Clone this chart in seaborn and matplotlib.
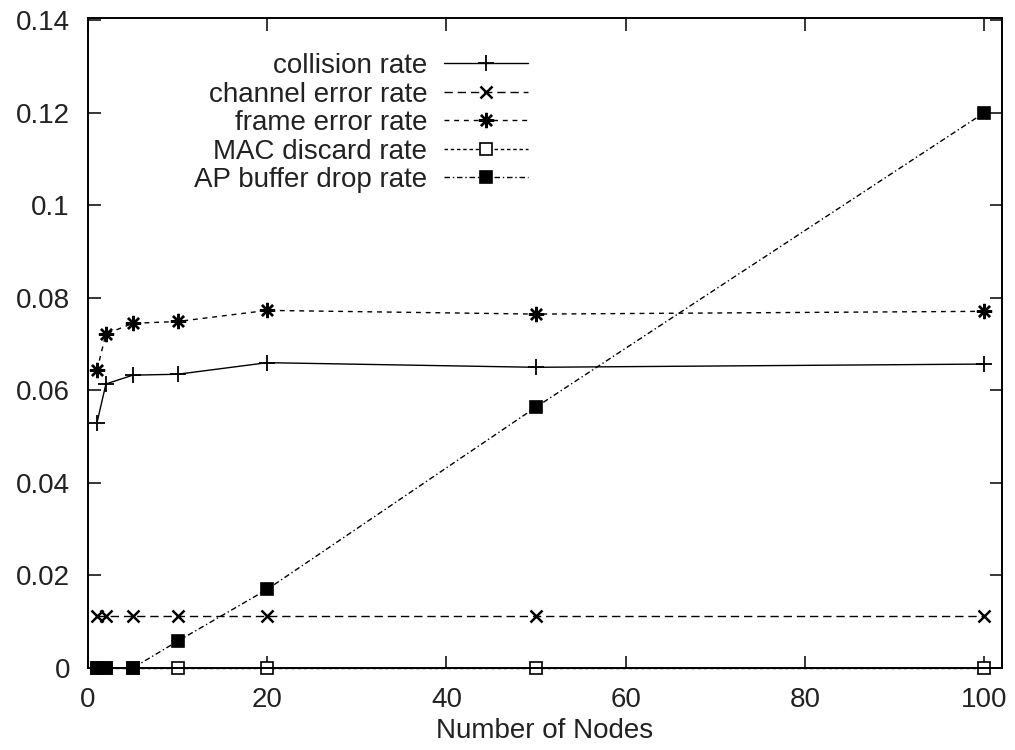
import matplotlib
matplotlib.use("Agg")
import matplotlib.pyplot as plt
import seaborn as sns
import pandas as pd

# Number of nodes on the WLAN
nodes = [1, 2, 5, 10, 20, 50, 100]

# Measured rates per node count
collision_rate = [0.053, 0.0614, 0.0633, 0.0635, 0.066, 0.065, 0.0657]
channel_error_rate = [0.0112, 0.0112, 0.0112, 0.0112, 0.0112, 0.0112, 0.0112]
frame_error_rate = [0.0644, 0.0722, 0.0745, 0.0749, 0.0773, 0.0765, 0.0771]
mac_discard_rate = [0.0, 0.0, 0.0, 0.0, 0.0, 0.0, 0.0]
ap_buffer_drop_rate = [0.0, 0.0, 0.0, 0.0058, 0.017, 0.0564, 0.120]

series_names = ["collision rate", "channel error rate", "frame error rate",
                "MAC discard rate", "AP buffer drop rate"]
series_values = [collision_rate, channel_error_rate, frame_error_rate,
                 mac_discard_rate, ap_buffer_drop_rate]

x_ticks = [0, 20, 40, 60, 80, 100]
y_ticks = [0, 0.02, 0.04, 0.06, 0.08, 0.1, 0.12, 0.14]
x_label = "Number of Nodes"

df = pd.DataFrame({"nodes": nodes})
for name, vals in zip(series_names, series_values):
    df[name] = vals

sns.set_style("ticks")
plt.rcParams["font.family"] = ["Liberation Sans", "DejaVu Sans"]
plt.rcParams["font.size"] = 20
text_color = "#222222"

styles = {
    "collision rate": dict(linestyle="-", marker="+", markersize=12,
                           markeredgewidth=1.3, markerfacecolor="black"),
    "channel error rate": dict(linestyle=(0, (6, 3.5)), marker="x", markersize=9,
                               markeredgewidth=1.8, markerfacecolor="black"),
    "frame error rate": dict(linestyle=(0, (3.5, 3.5)), marker=(8, 2, 0), markersize=11,
                             markeredgewidth=1.7, markerfacecolor="black"),
    "MAC discard rate": dict(linestyle=(0, (2.5, 2)), marker="s", markersize=9,
                             markeredgewidth=1.2, markerfacecolor="white"),
    "AP buffer drop rate": dict(linestyle=(0, (4, 2, 1, 2)), marker="s", markersize=9,
                                markeredgewidth=1.2, markerfacecolor="black"),
}

fig = plt.figure(figsize=(10.15, 7.5), dpi=100)
ax = fig.add_axes([0.0867, 0.1093, 0.9005, 0.8667])

for name in series_names:
    sns.lineplot(data=df, x="nodes", y=name, ax=ax, color="black", linewidth=1.0,
                 markeredgecolor="black", label=name, clip_on=False,
                 **styles[name])

ax.set_xlim(0, 102)
ax.set_ylim(0, 0.1405)
ax.set_xticks(x_ticks)
ax.set_yticks(y_ticks)
ax.set_xticklabels([f"{v:g}" for v in x_ticks])
ax.set_yticklabels([f"{v:g}" for v in y_ticks])
ax.set_xlabel(x_label, labelpad=3, color=text_color)
ax.set_ylabel("")

ax.tick_params(direction="in", length=9, width=1.1, top=True, right=True,
               color="black", labelcolor=text_color, labelsize=20)
ax.tick_params(axis="y", pad=13)
ax.tick_params(axis="x", pad=14)
for sp in ax.spines.values():
    sp.set_visible(True)
    sp.set_linewidth(1.4)
    sp.set_color("black")

leg = ax.legend(loc="upper right", bbox_to_anchor=(0.481, 0.946),
                frameon=False, markerfirst=False, handlelength=3.0,
                handletextpad=0.61, labelspacing=0.09, borderpad=0,
                borderaxespad=0, fontsize=20, labelcolor=text_color)

fig.savefig("out.png", dpi=100)
